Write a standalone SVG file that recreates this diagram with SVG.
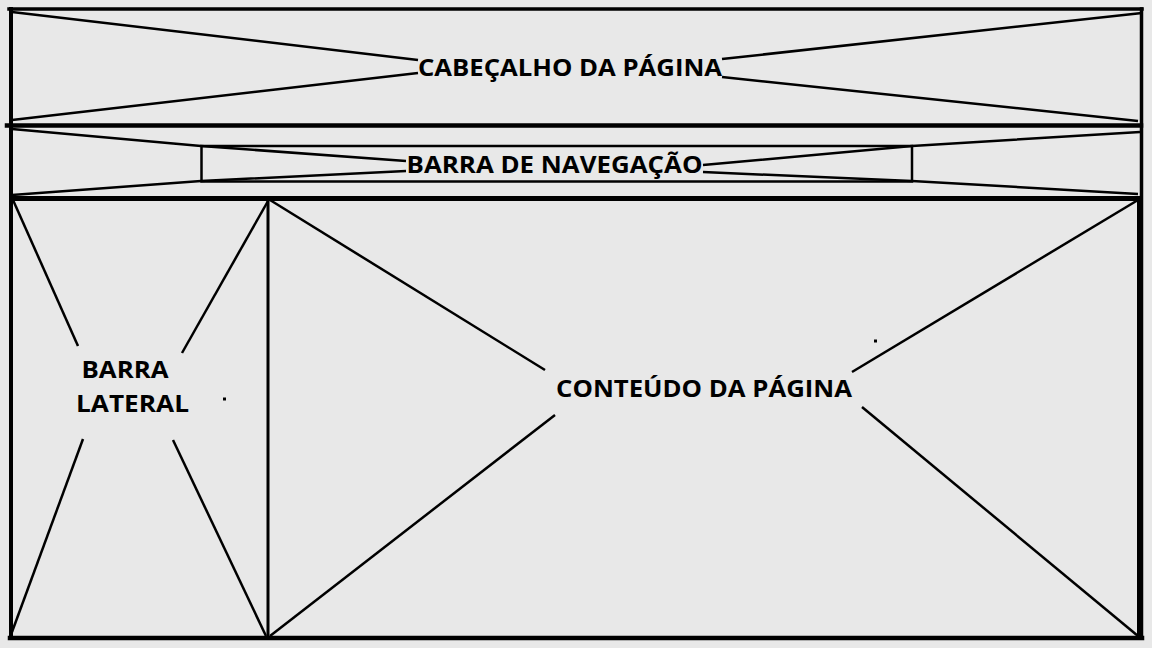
<svg xmlns="http://www.w3.org/2000/svg" width="1152" height="648" viewBox="0 0 1152 648">
  <style>
    .frame { stroke: #000; fill: none; stroke-linecap: square; }
    .diag { stroke: #000; fill: none; stroke-width: 2.5; stroke-linejoin: round; }
    .lbl { font-family: "Open Sans", "Noto Sans", "Liberation Sans", sans-serif; font-weight: 700; font-size: 22.5px; fill: #000; }
  </style>
  <rect x="0" y="0" width="1152" height="648" fill="#e8e8e8"/>

  <g id="frame">
    <line class="frame" x1="9" y1="9" x2="1142" y2="9" stroke-width="3.5"/>
    <line class="frame" x1="11" y1="9" x2="11" y2="638" stroke-width="4"/>
    <line class="frame" x1="1141.5" y1="9" x2="1141.5" y2="638" stroke-width="3.5"/>
    <line class="frame" x1="10" y1="638" x2="1142" y2="638" stroke-width="4.5"/>
  </g>

  <g id="header">
    <line class="frame" x1="7" y1="125.5" x2="1141" y2="125.5" stroke-width="4.5"/>
    <polyline class="diag" points="12,12 418,60"/>
    <polyline class="diag" points="12,120 418,73"/>
    <polyline class="diag" points="722,59 1142,13"/>
    <polyline class="diag" points="722,77 1138,121"/>
    <text class="lbl" x="418" y="75.5" textLength="304" lengthAdjust="spacingAndGlyphs">CABEÇALHO DA PÁGINA</text>
  </g>

  <g id="nav">
    <line class="frame" x1="12" y1="198.5" x2="1140" y2="198.5" stroke-width="5"/>
    <rect x="201.5" y="146" width="710.5" height="35.5" fill="none" stroke="#000" stroke-width="2.5"/>
    <polyline class="diag" points="12,129 201,146 406,161"/>
    <polyline class="diag" points="12,195 201,181 406,171"/>
    <polyline class="diag" points="703,165 912,146 1140,132"/>
    <polyline class="diag" points="703,172 912,181 1138,194"/>
    <text class="lbl" x="406.5" y="172.5" textLength="296" lengthAdjust="spacingAndGlyphs">BARRA DE NAVEGAÇÃO</text>
  </g>

  <g id="sidebar">
    <line class="frame" x1="268" y1="199" x2="268" y2="637" stroke-width="3"/>
    <polyline class="diag" points="13,200 78,346"/>
    <polyline class="diag" points="268,201 182,353"/>
    <polyline class="diag" points="83,439 12,632"/>
    <polyline class="diag" points="173,440 266,636"/>
    <text class="lbl" x="81.5" y="377.5" textLength="87" lengthAdjust="spacingAndGlyphs">BARRA</text>
    <text class="lbl" x="76" y="412" textLength="113" lengthAdjust="spacingAndGlyphs">LATERAL</text>
    <rect x="223" y="397.5" width="3" height="3" fill="#000"/>
  </g>

  <g id="content">
    <line class="frame" x1="1139" y1="199" x2="1139" y2="637" stroke-width="4"/>
    <polyline class="diag" points="270,200 545,370"/>
    <polyline class="diag" points="555,415 270,636"/>
    <polyline class="diag" points="1138,200 852,372"/>
    <polyline class="diag" points="862,407 1138,636"/>
    <text class="lbl" x="556" y="397" textLength="296" lengthAdjust="spacingAndGlyphs">CONTEÚDO DA PÁGINA</text>
    <rect x="874" y="339.5" width="3" height="3" fill="#000"/>
  </g>

  <g id="connectors"></g>
</svg>
